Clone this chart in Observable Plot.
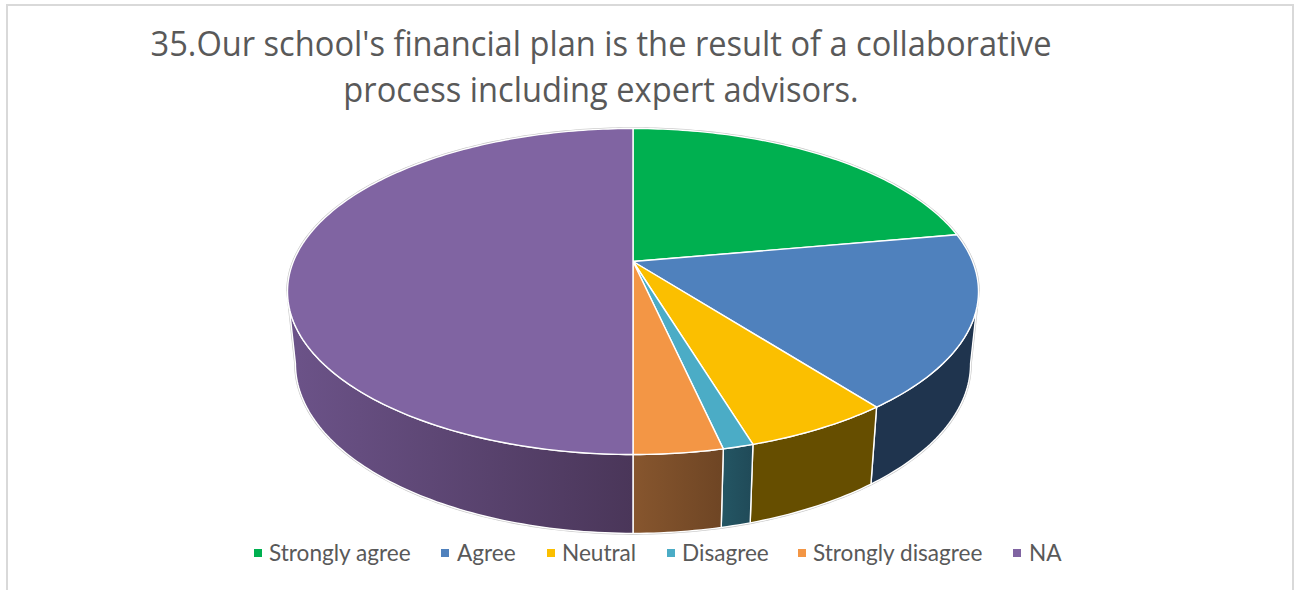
<!DOCTYPE html>
<html><head><meta charset="utf-8">
<script src="https://cdn.jsdelivr.net/npm/d3@7"></script>
<script src="https://cdn.jsdelivr.net/npm/@observablehq/plot@0.6"></script>
<style>
html,body{margin:0;padding:0;background:#fff;overflow:hidden;width:1294px;height:590px}
#frame{position:absolute;left:6px;top:4px;width:1284px;height:620px;border:2px solid #d9d9d9;box-sizing:content-box}
#title{position:absolute;left:0;top:20px;width:1202px;text-align:center;font:35px/46px "Open Sans",sans-serif;color:#595959;white-space:nowrap;transform:scaleX(0.932);transform-origin:601px 0}
#chart{position:absolute;left:0;top:110px}
#chart svg{display:block}
#legend{position:absolute;left:0;top:538px;height:30px;font:22.6px/30px Lato,sans-serif;color:#595959;white-space:nowrap}
#legend span{position:absolute;top:0}
#legend i{position:absolute;top:11px;width:8px;height:8px}
</style></head><body>
<div id="frame"></div>
<div id="title">35.Our school's financial plan is the result of a collaborative<br>process including expert advisors.</div>
<div id="chart"></div>
<div id="legend"></div>
<script>
const categories = ["Strongly agree","Agree","Neutral","Disagree","Strongly disagree","NA"];
const shares = [22.2, 17.3, 5.8, 1.2, 3.5, 50];
const topColors = ["#00b050","#4f81bd","#fbbf00","#4bacc6","#f39645","#8064a2"];
const sideFrom = ["#00592a","#1f344e","#664e00","#245664","#87562e","#6c5389"];
const sideTo   = ["#00592a","#1f344e","#664e00","#204a58","#6e4524","#4a3659"];
const legendTextX = [269,457,562,682,813,1029];
const legendSwatchX = [254,441,547,667,798,1013];

// Perspective view of the disc: the rim is an ellipse and the centre sits above its middle.
const tilt = 0.184, shrink = Math.sqrt(1 - tilt*tilt);
const topRim = t => { const u=Math.sin(t), v=-Math.cos(t), w=1-tilt*v; return {x:shrink*u/w, y:(v-tilt)/w}; };
const lowRim = t => { const p=topRim(t); return {x:0.977*p.x, y:1.04*p.y+0.444}; };
const rad = d => d*Math.PI/180;
const arc = (f,a,b) => { const n=Math.max(2,Math.ceil(Math.abs(b-a))); return d3.range(n+1).map(i=>f(rad(a+(b-a)*i/n))); };

const edges = d3.cumsum(shares).map(c=>c*3.6);
const slices = categories.map((name,i)=>({name,i,a:i?edges[i-1]:0,b:edges[i]}));
const visibleFrom = 100.5, visibleTo = 259.5;

const topRows = slices.flatMap(s=>[{name:s.name,x:0,y:-tilt},...arc(topRim,s.a,s.b).map(p=>({name:s.name,...p}))]);
const sides = slices.map(s=>{
  const a=Math.max(s.a,visibleFrom), b=Math.min(s.b,visibleTo);
  return b>a ? {...s,pts:[...arc(topRim,a,b),...arc(lowRim,b,a)]} : null;
}).filter(Boolean);
const outline = [...arc(topRim,visibleTo,visibleFrom+360),...arc(lowRim,visibleFrom,visibleTo)];

const defs = () => {
  const d = d3.create("svg:defs");
  sides.forEach(s=>{
    const g=d.append("linearGradient").attr("id","side"+s.i);
    g.append("stop").attr("offset","0%").attr("stop-color",sideFrom[s.i]);
    g.append("stop").attr("offset","100%").attr("stop-color",sideTo[s.i]);
  });
  return d.node();
};

const plot = Plot.plot({
  width:1294, height:430, margin:0,
  x:{domain:[-1,1],range:[287,978],axis:null},
  y:{domain:[-1,1],range:[18,344],axis:null},
  color:{domain:categories,range:topColors},
  marks:[
    defs,
    Plot.line(outline,{x:"x",y:"y",curve:"linear-closed",fill:"none",stroke:"#c6c6c6",strokeWidth:2.6}),
    ...sides.map(s=>Plot.line(s.pts,{x:"x",y:"y",curve:"linear-closed",fill:`url(#side${s.i})`,stroke:"#fff",strokeWidth:1.4})),
    Plot.line(topRows,{x:"x",y:"y",z:"name",curve:"linear-closed",fill:"name",stroke:"#fff",strokeWidth:1.4})
  ]
});
document.getElementById("chart").append(plot);

const legend = d3.select("#legend");
categories.forEach((c,i)=>{
  legend.append("i").style("left",legendSwatchX[i]+"px").style("background",topColors[i]);
  legend.append("span").style("left",legendTextX[i]+"px").text(c);
});
</script>
</body></html>
